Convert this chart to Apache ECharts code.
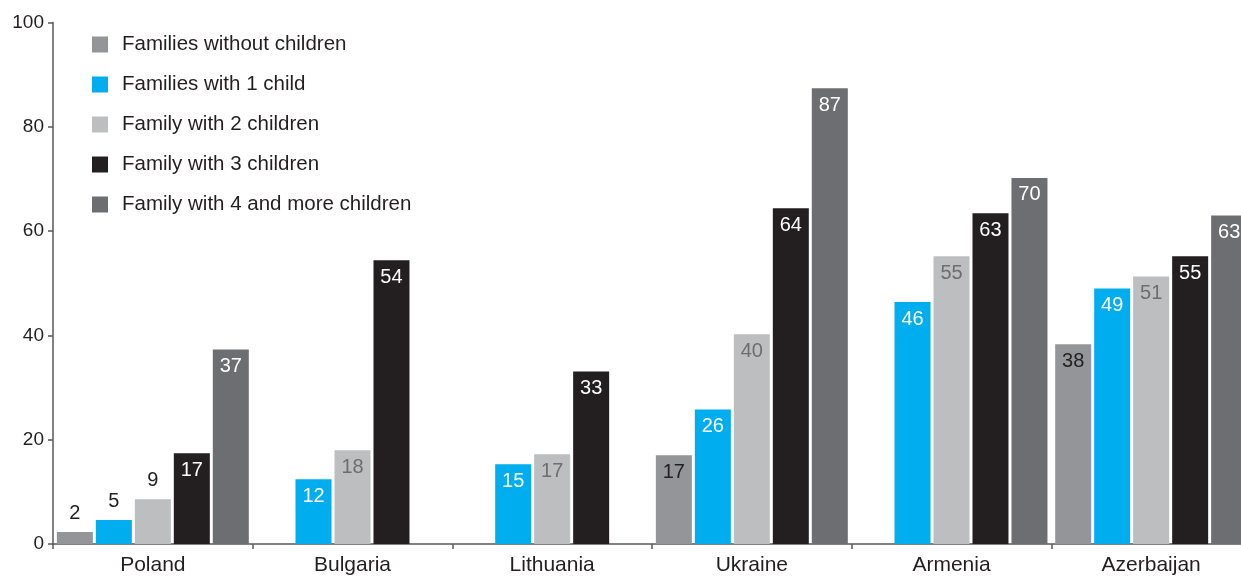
<!DOCTYPE html>
<html>
<head>
<meta charset="utf-8">
<script src="https://cdn.jsdelivr.net/npm/echarts@6/dist/echarts.min.js"></script>
<style>
html,body{margin:0;padding:0;background:#fff;overflow:hidden;width:1241px;height:576px;}
#c{width:1251px;height:576px;}
</style>
</head>
<body>
<div id="c"></div>
<script>
const categories = ['Poland', 'Bulgaria', 'Lithuania', 'Ukraine', 'Armenia', 'Azerbaijan'];
const seriesNames = ['Families without children', 'Families with 1 child', 'Family with 2 children', 'Family with 3 children', 'Family with 4 and more children'];
const noChildren = [2.3, null, null, 17.0, null, 38.3];
const oneChild = [4.6, 12.4, 15.3, 25.8, 46.4, 49.0];
const twoChildren = [8.6, 18.0, 17.2, 40.2, 55.2, 51.3];
const threeChildren = [17.4, 54.4, 33.1, 64.4, 63.4, 55.2];
const fourPlus = [37.3, null, null, 87.4, 70.2, 63.0];
const yTicks = [0, 20, 40, 60, 80, 100];

const seriesValues = [noChildren, oneChild, twoChildren, threeChildren, fourPlus];
const colors = ['#939598', '#00AEEF', '#BCBEC0', '#231F20', '#6D6E71'];
const labelColors = ['#231F20', '#FFFFFF', '#6D6E71', '#FFFFFF', '#FFFFFF'];
const labelFont = '"Liberation Sans Narrow", "Arial Narrow", "Liberation Sans", sans-serif';
const baseFont = '"Liberation Sans", Arial, sans-serif';

const chart = echarts.init(document.getElementById('c'), null, {renderer: 'canvas'});

const series = seriesValues.map((vals, i) => ({
  name: seriesNames[i],
  type: 'bar',
  barWidth: 36,
  barGap: '8.3%',
  itemStyle: {color: colors[i]},
  label: {
    show: true,
    position: 'insideTop',
    distance: 7,
    color: labelColors[i],
    fontFamily: labelFont,
    fontSize: 20,
    formatter: p => Math.round(p.value)
  },
  data: vals.map(v => {
    if (v === null) return '-';
    if (v < 10) {
      return {value: v, label: {position: 'top', distance: 9, color: '#231F20'}};
    }
    return v;
  })
}));

chart.setOption({
  animation: false,
  backgroundColor: '#FFFFFF',
  textStyle: {fontFamily: baseFont},
  grid: {left: 53, right: 0, top: 22.5, bottom: 31.5, containLabel: false},
  legend: {
    orient: 'vertical',
    left: 92,
    top: 34,
    padding: 0,
    itemWidth: 16,
    itemHeight: 16,
    itemGap: 19,
    icon: 'rect',
    selectedMode: false,
    textStyle: {fontSize: 20.5, color: '#231F20', fontFamily: baseFont, lineHeight: 18, padding: [0, 0, 0, 9]},
    data: seriesNames
  },
  xAxis: {
    type: 'category',
    data: categories,
    axisLine: {lineStyle: {color: '#58595B', width: 1.5}},
    axisTick: {show: true, length: 5, lineStyle: {color: '#58595B', width: 1.5}},
    axisLabel: {fontSize: 21, color: '#231F20', margin: 11, fontFamily: baseFont},
    splitLine: {show: false}
  },
  yAxis: {
    type: 'value',
    min: yTicks[0],
    max: yTicks[yTicks.length - 1],
    interval: yTicks[1] - yTicks[0],
    axisLine: {show: true, lineStyle: {color: '#58595B', width: 1.5}},
    axisTick: {show: true, length: 5, lineStyle: {color: '#58595B', width: 1.5}},
    axisLabel: {fontSize: 19, color: '#231F20', margin: 9, fontFamily: baseFont},
    splitLine: {show: false}
  },
  series: series
});
</script>
</body>
</html>
